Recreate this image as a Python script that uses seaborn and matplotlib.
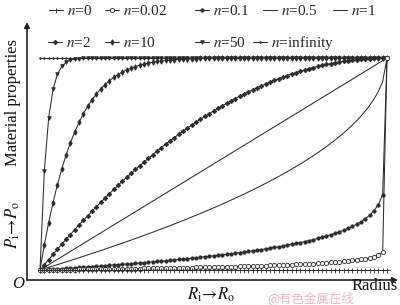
import matplotlib
matplotlib.use("Agg")
import matplotlib.pyplot as plt
import seaborn as sns
from matplotlib.lines import Line2D

# ---------------- data (normalised radius, normalised property) ----------------
radius = [
    0.0, 0.0125, 0.025, 0.0375, 0.05, 0.0625, 0.075, 0.0875, 0.1, 0.1125,
    0.125, 0.1375, 0.15, 0.1625, 0.175, 0.1875, 0.2, 0.2125, 0.225, 0.2375,
    0.25, 0.2625, 0.275, 0.2875, 0.3, 0.3125, 0.325, 0.3375, 0.35, 0.3625,
    0.375, 0.3875, 0.4, 0.4125, 0.425, 0.4375, 0.45, 0.4625, 0.475, 0.4875,
    0.5, 0.5125, 0.525, 0.5375, 0.55, 0.5625, 0.575, 0.5875, 0.6, 0.6125,
    0.625, 0.6375, 0.65, 0.6625, 0.675, 0.6875, 0.7, 0.7125, 0.725, 0.7375,
    0.75, 0.7625, 0.775, 0.7875, 0.8, 0.8125, 0.825, 0.8375, 0.85, 0.8625,
    0.875, 0.8875, 0.9, 0.9125, 0.925, 0.9375, 0.95, 0.9625, 0.975, 0.9875,
    1.0]

frac_n0 = [
    0, 0, 0, 0, 0, 0, 0, 0, 0, 0,
    0, 0, 0, 0, 0, 0, 0, 0, 0, 0,
    0, 0, 0, 0, 0, 0, 0, 0, 0, 0,
    0, 0, 0, 0, 0, 0, 0, 0, 0, 0,
    0, 0, 0, 0, 0, 0, 0, 0, 0, 0,
    0, 0, 0, 0, 0, 0, 0, 0, 0, 0,
    0, 0, 0, 0, 0, 0, 0, 0, 0, 0,
    0, 0, 0, 0, 0, 0, 0, 0, 0, 0,
    0]

frac_n002 = [
    0, .0003, .0005, .0008, .0010, .0013, .0016, .0018, .0021, .0024,
    .0027, .0030, .0032, .0035, .0038, .0041, .0045, .0048, .0051, .0054,
    .0057, .0061, .0064, .0068, .0071, .0075, .0078, .0082, .0086, .0090,
    .0094, .0098, .0101, .0106, .0110, .0114, .0119, .0123, .0128, .0133,
    .0138, .0143, .0148, .0153, .0158, .0164, .0170, .0176, .0182, .0188,
    .0194, .0201, .0208, .0215, .0222, .0230, .0238, .0246, .0255, .0264,
    .0273, .0283, .0294, .0305, .0317, .0329, .0343, .0357, .0372, .0389,
    .0407, .0427, .0450, .0475, .0505, .0539, .0581, .0635, .0711, .0839,
    1.0]

frac_n01 = [
    0, .0013, .0025, .0038, .0051, .0064, .0078, .0091, .0105, .0119,
    .0133, .0147, .0161, .0176, .0190, .0205, .0221, .0236, .0252, .0267,
    .0284, .0300, .0316, .0333, .0350, .0368, .0385, .0403, .0422, .0440,
    .0459, .0478, .0498, .0518, .0538, .0559, .0580, .0602, .0624, .0647,
    .0670, .0693, .0717, .0742, .0767, .0793, .0820, .0847, .0876, .0904,
    .0934, .0965, .0997, .1029, .1063, .1098, .1134, .1172, .1211, .1252,
    .1295, .1339, .1386, .1435, .1487, .1541, .1600, .1662, .1728, .1800,
    .1878, .1963, .2057, .2162, .2282, .2421, .2589, .2799, .3085, .3548,
    1.0]

frac_n05 = [
    0, .0063, .0126, .0189, .0253, .0318, .0382, .0448, .0513, .0579,
    .0646, .0713, .0780, .0849, .0917, .0986, .1056, .1126, .1197, .1268,
    .1340, .1412, .1485, .1559, .1633, .1708, .1784, .1861, .1938, .2016,
    .2094, .2174, .2254, .2335, .2417, .2500, .2584, .2669, .2754, .2841,
    .2929, .3018, .3108, .3199, .3292, .3386, .3481, .3577, .3675, .3775,
    .3876, .3979, .4084, .4191, .4299, .4410, .4523, .4638, .4756, .4877,
    .5000, .5127, .5257, .5390, .5528, .5670, .5817, .5969, .6127, .6292,
    .6464, .6646, .6838, .7042, .7261, .7500, .7764, .8064, .8419, .8882,
    1.0]

radius_n1 = [0.0, 1.0]
frac_n1 = [0.0, 1.0]

frac_n2 = [
    0, .0248, .0494, .0736, .0975, .1211, .1444, .1673, .1900, .2123,
    .2344, .2561, .2775, .2986, .3194, .3398, .3600, .3798, .3994, .4186,
    .4375, .4561, .4744, .4923, .5100, .5273, .5444, .5611, .5775, .5936,
    .6094, .6248, .6400, .6548, .6694, .6836, .6975, .7111, .7244, .7373,
    .7500, .7623, .7744, .7861, .7975, .8086, .8194, .8298, .8400, .8498,
    .8594, .8686, .8775, .8861, .8944, .9023, .9100, .9173, .9244, .9311,
    .9375, .9436, .9494, .9548, .9600, .9648, .9694, .9736, .9775, .9811,
    .9844, .9873, .9900, .9923, .9944, .9961, .9975, .9986, .9994, .9998,
    1.0]

frac_n10 = [
    0, .1184, .2235, .3175, .4013, .4753, .5411, .5995, .6511, .6967,
    .7368, .7721, .8031, .8302, .8538, .8746, .8926, .9083, .9218, .9335,
    .9437, .9524, .9599, .9663, .9717, .9764, .9804, .9837, .9865, .9889,
    .9909, .9926, .9940, .9951, .9960, .9968, .9975, .9980, .9984, .9987,
    .9990, .9992, .9994, .9996, .9997, .9997, .9998, .9999, .9999, .9999,
    1.0, 1.0, 1.0, 1.0, 1.0, 1.0, 1.0, 1.0, 1.0, 1.0,
    1.0, 1.0, 1.0, 1.0, 1.0, 1.0, 1.0, 1.0, 1.0, 1.0,
    1.0, 1.0, 1.0, 1.0, 1.0, 1.0, 1.0, 1.0, 1.0, 1.0,
    1.0]

frac_n50 = [
    0, .4674, .7178, .8519, .9231, .9603, .9797, .9897, .9948, .9974,
    .9987, .9994, .9997, .9999, 1.0, 1.0, 1.0, 1.0, 1.0, 1.0,
    1.0, 1.0, 1.0, 1.0, 1.0, 1.0, 1.0, 1.0, 1.0, 1.0,
    1.0, 1.0, 1.0, 1.0, 1.0, 1.0, 1.0, 1.0, 1.0, 1.0,
    1.0, 1.0, 1.0, 1.0, 1.0, 1.0, 1.0, 1.0, 1.0, 1.0,
    1.0, 1.0, 1.0, 1.0, 1.0, 1.0, 1.0, 1.0, 1.0, 1.0,
    1.0, 1.0, 1.0, 1.0, 1.0, 1.0, 1.0, 1.0, 1.0, 1.0,
    1.0, 1.0, 1.0, 1.0, 1.0, 1.0, 1.0, 1.0, 1.0, 1.0,
    1.0]

frac_ninf = [
    1.0, 1.0, 1.0, 1.0, 1.0, 1.0, 1.0, 1.0, 1.0, 1.0,
    1.0, 1.0, 1.0, 1.0, 1.0, 1.0, 1.0, 1.0, 1.0, 1.0,
    1.0, 1.0, 1.0, 1.0, 1.0, 1.0, 1.0, 1.0, 1.0, 1.0,
    1.0, 1.0, 1.0, 1.0, 1.0, 1.0, 1.0, 1.0, 1.0, 1.0,
    1.0, 1.0, 1.0, 1.0, 1.0, 1.0, 1.0, 1.0, 1.0, 1.0,
    1.0, 1.0, 1.0, 1.0, 1.0, 1.0, 1.0, 1.0, 1.0, 1.0,
    1.0, 1.0, 1.0, 1.0, 1.0, 1.0, 1.0, 1.0, 1.0, 1.0,
    1.0, 1.0, 1.0, 1.0, 1.0, 1.0, 1.0, 1.0, 1.0, 1.0,
    1.0]

legend_labels = ["$n$=0", "$n$=0.02", "$n$=0.1", "$n$=0.5", "$n$=1",
                 "$n$=2", "$n$=10", "$n$=50", "$n$=infinity"]

# ---------------- style ----------------
sns.set_theme(style="white")
plt.rcParams["font.family"] = ["Liberation Serif", "DejaVu Serif"]
plt.rcParams["mathtext.fontset"] = "stix"

W, H = 400, 305
fig = plt.figure(figsize=(W / 100, H / 100), dpi=100)
fig.patch.set_facecolor("white")

# axes: y-axis line at px x=27, x-axis line at px y=280, arrows to x=398 / y=22
ax = fig.add_axes([27 / W, 25 / H, 371 / W, 258 / H])
ax.set_facecolor("white")
ax.set_xlim(-13 / 347, 358 / 347)
ax.set_ylim(-10 / 212, 248 / 212)
for s in ax.spines.values():
    s.set_visible(False)
ax.set_xticks([])
ax.set_yticks([])
ax.grid(False)

C = "#2b2b2b"
LW = 0.75

series = [
    # x, y, marker, ms, facecolor, label index
    (radius, frac_ninf, ".", 2.2, C, 8),
    (radius, frac_n50, "v", 2.6, C, 7),
    (radius, frac_n10, "d", 2.8, C, 6),
    (radius, frac_n2, "D", 2.3, C, 5),
    (radius_n1, frac_n1, None, 0, C, 4),
    (radius, frac_n05, None, 0, C, 3),
    (radius, frac_n01, "o", 2.4, C, 2),
    (radius, frac_n002, "o", 3.0, "white", 1),
    (radius, frac_n0, "+", 3.6, C, 0),
]

handles = {}
for xs, ys, mk, ms, fc, li in series:
    kw = dict(color=C, lw=LW, estimator=None, sort=False, legend=False, ax=ax)
    if mk is not None:
        kw.update(marker=mk, markersize=ms, markerfacecolor=fc,
                  markeredgecolor=C, markeredgewidth=0.6)
    sns.lineplot(x=xs, y=ys, **kw)
    handles[li] = Line2D([], [], color=C, lw=LW,
                         marker=mk if mk is not None else "None",
                         markersize=ms, markerfacecolor=fc,
                         markeredgecolor=C, markeredgewidth=0.6)

# axis arrows
x0, x1 = -13 / 347, 358 / 347
y0, y1 = -10 / 212, 248 / 212
arrow = dict(arrowstyle="-|>", lw=1.2, color="#222222", mutation_scale=8,
             shrinkA=0, shrinkB=0)
ax.annotate("", xy=(x1, y0), xytext=(x0, y0), arrowprops=arrow,
            annotation_clip=False)
ax.annotate("", xy=(x0, y1), xytext=(x0, y0), arrowprops=arrow,
            annotation_clip=False)

# legend entries (two rows)
legend_pos = [(49, 11), (105, 11), (195, 11), (263, 11), (333, 11),
              (48, 43), (105, 43), (195, 43), (253, 43)]
for i, (px, py) in enumerate(legend_pos):
    fig.legend(handles=[handles[i]], labels=[legend_labels[i]],
               loc="center left", bbox_to_anchor=(px / W, 1 - py / H),
               bbox_transform=fig.transFigure, frameon=False, fontsize=11,
               handlelength=0.9, handletextpad=0.3, borderpad=0,
               borderaxespad=0, numpoints=1)

def ftext(px, py, s, **kw):
    fig.text(px / W, 1 - py / H, s, ha="center", va="center",
             color="#111111", **kw)

ftext(13, 103, "Material properties", rotation=90, fontsize=12)
ftext(13, 225, r"$P_{\mathrm{i}}\!\rightarrow\!P_{\mathrm{o}}$", rotation=90,
      fontsize=12)
ftext(18, 284, "O", fontsize=12, style="italic")
ftext(211, 295, r"$R_{\mathrm{i}}\!\rightarrow\!R_{\mathrm{o}}$", fontsize=12)
ftext(375, 286, "Radius", fontsize=12)
fig.text(311 / W, 1 - 298 / H, "@有色金属在线", ha="center", va="center",
         fontsize=9, color="#f2a9b4", alpha=0.85,
         family=["Noto Sans CJK SC", "DejaVu Sans"], zorder=0)

fig.savefig("out.png", dpi=100, facecolor="white")
